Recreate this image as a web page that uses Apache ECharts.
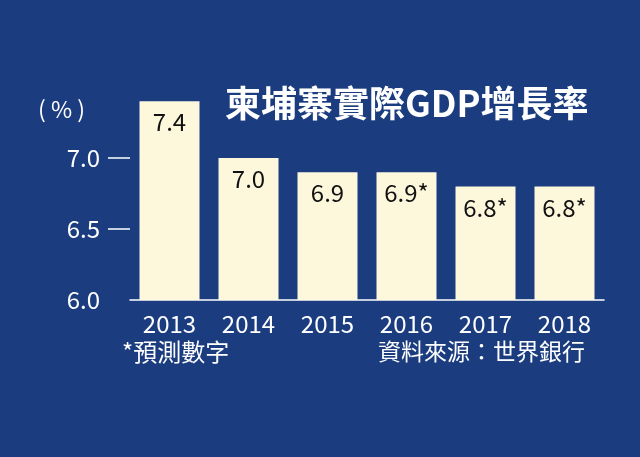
<![CDATA[<!DOCTYPE html><html><head><meta charset="utf-8"><script src="https://cdn.jsdelivr.net/npm/echarts@6/dist/echarts.min.js"></script>
<style>html,body{margin:0;background:#1b3d80}#c{width:640px;height:457px}</style></head><body><div id="c"></div><script>
const years=['2013','2014','2015','2016','2017','2018'];
const gdp=[7.4,7.0,6.9,6.9,6.8,6.8];
const barLabels=['7.4','7.0','6.9','6.9*','6.8*','6.8*'];
const yTicks=[6.0,6.5,7.0];
const F='"Noto Sans CJK TC","Noto Sans",sans-serif';
const ch=echarts.init(document.getElementById('c'));
ch.setOption({backgroundColor:'#1b3d80',
grid:{left:130,right:36,top:87,bottom:157},
title:{text:'柬埔寨實際GDP增長率',left:220,top:80,textStyle:{color:'#fff',fontSize:36,fontWeight:'bold',fontFamily:F}},
graphic:[
{type:'text',left:38,top:98,style:{text:'( % )',fill:'#fff',fontSize:23,fontFamily:F}},
{type:'text',left:122,top:340,style:{text:'*預測數字',fill:'#fff',fontSize:24,fontFamily:F}},
{type:'text',left:378,top:340,style:{text:'資料來源：世界銀行',fill:'#fff',fontSize:23,fontFamily:F}}],
xAxis:{type:'category',data:years,axisLine:{lineStyle:{color:'#fff',width:1.5}},axisTick:{show:false},
axisLabel:{color:'#fff',fontSize:24,fontFamily:F,margin:12}},
yAxis:{type:'value',min:6.0,max:7.5,interval:0.5,splitLine:{show:false},axisLine:{show:false},
axisTick:{show:true,length:22,customValues:[6.5,7.0],lineStyle:{color:'#fff',width:1.5}},
axisLabel:{color:'#fff',fontSize:24,fontFamily:F,margin:30,customValues:yTicks,formatter:v=>v.toFixed(1)}},
series:[{type:'bar',data:gdp,barWidth:60,itemStyle:{color:'#fdf8dc'},
label:{show:true,position:'insideTop',distance:9,color:'#111',fontSize:24,fontFamily:F,formatter:p=>barLabels[p.dataIndex]}}]});
</script></body></html>]]>
